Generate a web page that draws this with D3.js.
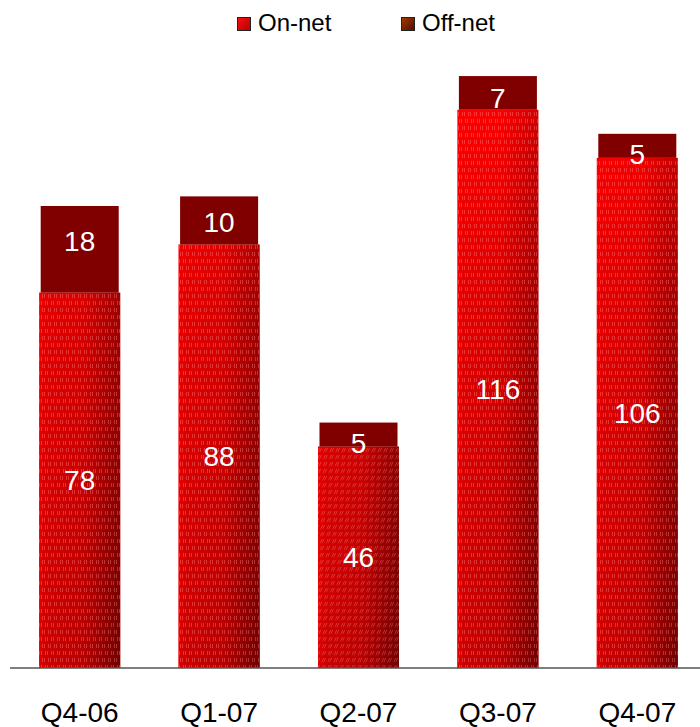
<!DOCTYPE html>
<html>
<head>
<meta charset="utf-8">
<script src="https://cdn.jsdelivr.net/npm/d3@7/dist/d3.min.js"></script>
<style>
  html, body { margin: 0; padding: 0; background: #fff; }
  svg { display: block; font-family: "Liberation Sans", Arial, sans-serif; }
</style>
</head>
<body>
<div id="chart"></div>
<script>
// Quarterly minutes split into on-net and off-net traffic
const categories = ["Q4-06", "Q1-07", "Q2-07", "Q3-07", "Q4-07"];
const onNet = [78, 88, 46, 116, 106];
const offNet = [18, 10, 5, 7, 5];
const seriesNames = ["On-net", "Off-net"];

const W = 700, H = 727;
const svg = d3.select("#chart").append("svg")
  .attr("width", W).attr("height", H);

const defs = svg.append("defs");

function hGradient(id, stops) {
  const gr = defs.append("linearGradient").attr("id", id)
    .attr("x1", 0).attr("y1", 0).attr("x2", 1).attr("y2", 0);
  stops.forEach(([o, c]) => gr.append("stop").attr("offset", o).attr("stop-color", c));
}
// Bright face of the on-net column
hGradient("onLight", [[0, "#ff0000"], [0.55, "#ff0000"], [1, "#d80000"]]);
// Shadowed face, blended in toward the floor
hGradient("onDark", [[0, "#e40000"], [0.08, "#cc0000"], [0.55, "#b80000"], [1, "#700000"]]);

const baseY = 668;
// Shadow strength grows with depth in the plot
const fade = defs.append("linearGradient")
  .attr("id", "depthFade")
  .attr("gradientUnits", "userSpaceOnUse")
  .attr("x1", 0).attr("y1", 80).attr("x2", 0).attr("y2", baseY);
[[0, 0], [0.37, 0.55], [1, 1]].forEach(([o, a]) =>
  fade.append("stop").attr("offset", o).attr("stop-color", "#fff").attr("stop-opacity", a));
defs.append("mask")
  .attr("id", "depthMask")
  .attr("maskUnits", "userSpaceOnUse")
  .attr("maskContentUnits", "userSpaceOnUse")
  .attr("x", 0).attr("y", 0).attr("width", W).attr("height", H)
  .append("rect").attr("x", 0).attr("y", 0).attr("width", W).attr("height", H)
  .attr("fill", "url(#depthFade)");

// Fine dashed texture laid over the on-net columns
function dashPattern(id, transform) {
  const p = defs.append("pattern")
    .attr("id", id)
    .attr("patternUnits", "userSpaceOnUse")
    .attr("width", 6).attr("height", 14);
  if (transform) p.attr("patternTransform", transform);
  const c = "rgba(255,175,175,0.3)";
  [[0.5, 0], [2.5, 0], [3.5, 7], [5.5, 7]].forEach(([x, y]) => {
    p.append("rect").attr("x", x - 0.5).attr("y", y).attr("width", 1).attr("height", 4)
      .attr("fill", c);
  });
}
dashPattern("dashes", null);
dashPattern("dashesSlant", "skewX(-25)");

// Legend swatch gradients
const lg1 = defs.append("linearGradient").attr("id", "lgOn")
  .attr("x1", 0).attr("y1", 0).attr("x2", 1).attr("y2", 1);
lg1.append("stop").attr("offset", 0).attr("stop-color", "#ff1010");
lg1.append("stop").attr("offset", 1).attr("stop-color", "#b00000");
const lg2 = defs.append("linearGradient").attr("id", "lgOff")
  .attr("x1", 0).attr("y1", 0).attr("x2", 1).attr("y2", 1);
lg2.append("stop").attr("offset", 0).attr("stop-color", "#a83a00");
lg2.append("stop").attr("offset", 1).attr("stop-color", "#4a1000");

const x = d3.scaleBand().domain(categories).range([10, 707]).paddingInner(0.426).paddingOuter(0.213);
const y = d3.scaleLinear().domain([0, 130]).range([baseY, baseY - 130 * 4.8125]);

const rows = categories.map((c, i) => ({ cat: c, i, on: onNet[i], off: offNet[i] }));

// On-net column bodies: light face, depth shadow, texture
const bw = x.bandwidth();
const g = svg.append("g");
const body = sel => sel
  .attr("x", d => x(d.cat) - 0.5)
  .attr("y", d => y(d.on))
  .attr("width", bw + 1)
  .attr("height", d => y(0) - y(d.on));
g.selectAll("rect.on").data(rows).join("rect")
  .attr("class", "on").call(body)
  .attr("fill", "url(#onLight)");
g.append("g").attr("mask", "url(#depthMask)")
  .selectAll("rect.shade").data(rows).join("rect")
  .attr("class", "shade").call(body)
  .attr("fill", "url(#onDark)");
g.selectAll("rect.tex").data(rows).join("rect")
  .attr("class", "tex").call(body)
  .attr("fill", d => d.i === 2 ? "url(#dashesSlant)" : "url(#dashes)");

// Off-net caps stacked on top
g.selectAll("rect.off").data(rows).join("rect")
  .attr("class", "off")
  .attr("x", d => x(d.cat) + 1)
  .attr("y", d => y(d.on + d.off))
  .attr("width", bw - 2)
  .attr("height", d => y(d.on) - y(d.on + d.off))
  .attr("fill", "#800000");

// Value labels
const labelStyle = sel => sel
  .attr("text-anchor", "middle")
  .attr("dy", "0.36em")
  .attr("fill", "#fff")
  .attr("font-size", 28);
g.selectAll("text.onv").data(rows).join("text")
  .attr("class", "onv")
  .attr("x", d => x(d.cat) + bw / 2)
  .attr("y", d => (y(0) + y(d.on)) / 2)
  .text(d => d.on)
  .call(labelStyle);
// Cap labels sit a little below the cap's top edge
g.selectAll("text.offv").data(rows).join("text")
  .attr("class", "offv")
  .attr("x", d => x(d.cat) + bw / 2)
  .attr("y", d => {
    const top = y(d.on + d.off), h = y(d.on) - top;
    return top + 20 + Math.max(0, h - 24) * 0.24;
  })
  .text(d => d.off)
  .call(labelStyle);

// Category axis
const axis = svg.append("g")
  .attr("transform", `translate(0,${baseY})`)
  .call(d3.axisBottom(x).tickSize(0));
axis.select(".domain").attr("stroke", "#555").attr("stroke-width", 1.5)
  .attr("d", "M10,0H700");
axis.selectAll(".tick text")
  .attr("y", 54).attr("dy", 0)
  .attr("font-size", 28)
  .attr("font-family", "\"Liberation Sans\", Arial, sans-serif")
  .attr("fill", "#000");

// Legend
const legend = svg.append("g");
const legendItems = [
  { name: seriesNames[0], fill: "url(#lgOn)", x: 237 },
  { name: seriesNames[1], fill: "url(#lgOff)", x: 401 }
];
legendItems.forEach(it => {
  legend.append("rect")
    .attr("x", it.x + 0.5).attr("y", 17.5).attr("width", 13).attr("height", 13)
    .attr("fill", it.fill).attr("stroke", "#222").attr("stroke-width", 1);
  legend.append("text")
    .attr("x", it.x + 21).attr("y", 31)
    .attr("font-size", 24).attr("fill", "#000")
    .text(it.name);
});
</script>
</body>
</html>
